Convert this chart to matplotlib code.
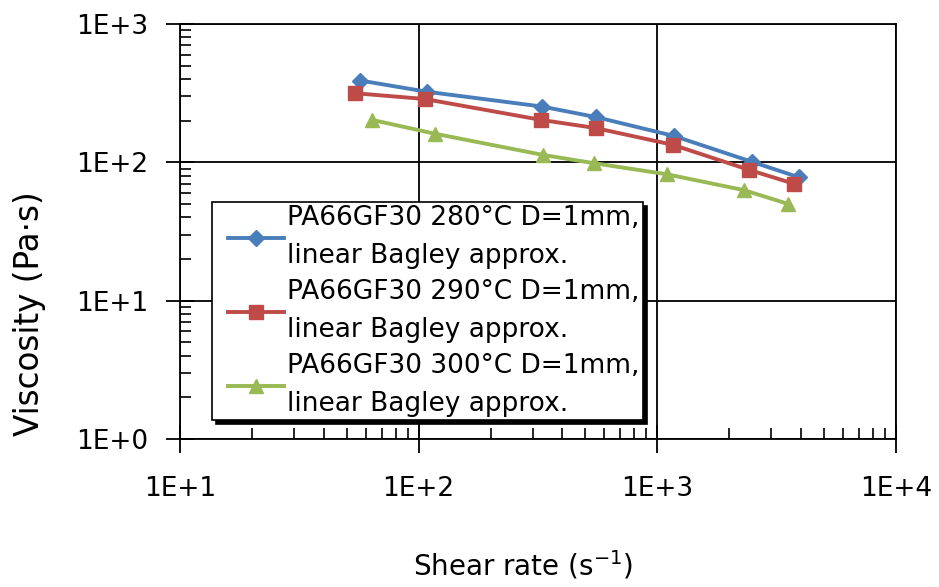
import numpy as np
import matplotlib
matplotlib.use('Agg')
import matplotlib.pyplot as plt
from matplotlib.ticker import LogLocator, FuncFormatter, NullFormatter
from matplotlib.legend_handler import HandlerLine2D

# shear rate (1/s) and viscosity (Pa*s)
rate_280 = [57, 108, 329, 556, 1175, 2486, 3917]
visc_280 = [390, 324, 253, 212, 155, 101, 78]
rate_290 = [54, 106, 324, 551, 1159, 2432, 3741]
visc_290 = [316, 287, 203, 177, 134, 88, 70]
rate_300 = [63.5, 117, 333, 542, 1096, 2301, 3539]
visc_300 = [203, 161, 113, 98.6, 82, 63, 50]

labels = ['PA66GF30 280\u00b0C D=1mm,\nlinear Bagley approx.',
          'PA66GF30 290\u00b0C D=1mm,\nlinear Bagley approx.',
          'PA66GF30 300\u00b0C D=1mm,\nlinear Bagley approx.']

plt.rcParams['font.family'] = 'DejaVu Sans'

fig = plt.figure(figsize=(9.39, 5.87), dpi=100)
ax = fig.add_axes([180/939, 1-439/587, 716/939, 415/587])

l1, = ax.plot(rate_280, visc_280, color='#4A7EBB', lw=2.8, marker='D', ms=8.5, label=labels[0], zorder=4)
l2, = ax.plot(rate_290, visc_290, color='#BE4B48', lw=2.8, marker='s', ms=9.5, label=labels[1], zorder=4)
l3, = ax.plot(rate_300, visc_300, color='#98B954', lw=2.8, marker='^', ms=10.5, label=labels[2], zorder=4)

ax.set_xscale('log')
ax.set_yscale('log')
ax.set_xlim(10, 1e4)
ax.set_ylim(1, 1e3)

fmt = FuncFormatter(lambda v, p: '1E+%d' % round(np.log10(v)))
for axis in (ax.xaxis, ax.yaxis):
    axis.set_major_locator(LogLocator(base=10, numticks=10))
    axis.set_minor_locator(LogLocator(base=10, subs=np.arange(2, 10), numticks=10))
    axis.set_major_formatter(fmt)
    axis.set_minor_formatter(NullFormatter())

ax.grid(True, which='major', color='black', lw=1.3)
for s in ax.spines.values():
    s.set_color('black')
    s.set_linewidth(1.3)

ax.tick_params(which='major', direction='inout', length=20, width=1.3, labelsize=19, colors='black')
ax.tick_params(axis='x', which='major', pad=17)
ax.tick_params(axis='y', which='major', pad=13)
ax.tick_params(which='minor', direction='in', length=8, width=1.2)
ax.tick_params(top=False, right=False, which='both')

fig.text(30/939, 1-314/587, 'Viscosity (Pa\u00b7s)', rotation=90, fontsize=23.5, ha='center', va='center')
fig.text(523/939, 1-565/587, 'Shear rate (s$^{\\mathregular{-1}}$)', fontsize=20, ha='center', va='center')

hm = {l: HandlerLine2D(xpad=0.5) for l in (l1, l2, l3)}
leg = ax.legend(loc='upper left', bbox_to_anchor=((212-180)/716, (439-202)/415),
                fontsize=19, frameon=True, fancybox=False,
                shadow={'color': 'black', 'alpha': 1, 'ox': 3, 'oy': -3},
                edgecolor='black', framealpha=1, borderpad=0.12, labelspacing=0.4,
                handlelength=2.6, handletextpad=0.12, borderaxespad=0, handler_map=hm)
leg.get_frame().set_linewidth(1.2)
for t in leg.get_texts():
    t.set_linespacing(1.58)

fig.savefig('out.png', dpi=100)
